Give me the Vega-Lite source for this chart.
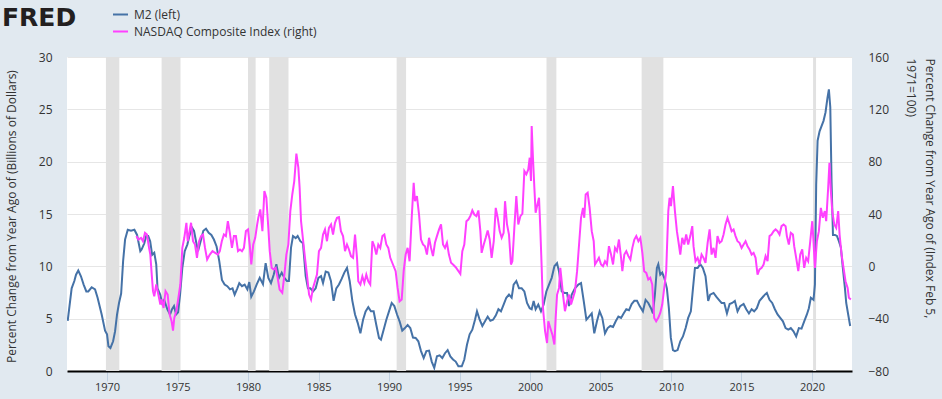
{
  "$schema": "https://vega.github.io/schema/vega-lite/v6.json",
  "width": 785,
  "height": 314,
  "autosize": {"type": "none"},
  "padding": {"left": 67, "top": 57, "right": 90, "bottom": 28},
  "background": "#e1e9f0",
  "config": {
    "view": {"stroke": null, "fill": "#ffffff"},
    "font": "Open Sans"
  },
  "datasets": {
    "rec": [
      {"s": 1969.92, "e": 1970.87}, {"s": 1973.87, "e": 1975.21}, {"s": 1980.0, "e": 1980.54},
      {"s": 1981.5, "e": 1982.87}, {"s": 1990.54, "e": 1991.21}, {"s": 2001.17, "e": 2001.87},
      {"s": 2007.92, "e": 2009.46}, {"s": 2020.08, "e": 2020.29}
    ],
    "m2": [
      {"t":1967.21,"v":4.8},{"t":1967.49,"v":7.9},{"t":1967.68,"v":8.6},{"t":1967.8,"v":9.2},{"t":1967.96,"v":9.6},
      {"t":1968.15,"v":9.05},{"t":1968.34,"v":8.26},{"t":1968.53,"v":7.6},{"t":1968.67,"v":7.6},{"t":1968.91,"v":8.0},
      {"t":1969.15,"v":7.8},{"t":1969.33,"v":7.0},{"t":1969.62,"v":5.4},{"t":1969.86,"v":3.86},{"t":1970.0,"v":3.5},
      {"t":1970.1,"v":2.36},{"t":1970.24,"v":2.2},{"t":1970.43,"v":2.84},{"t":1970.57,"v":3.8},{"t":1970.71,"v":5.4},
      {"t":1970.85,"v":6.5},{"t":1971.0,"v":7.4},{"t":1971.14,"v":10.5},{"t":1971.28,"v":12.56},{"t":1971.47,"v":13.5},
      {"t":1971.7,"v":13.4},{"t":1971.94,"v":13.5},{"t":1972.13,"v":13.0},{"t":1972.36,"v":11.45},{"t":1972.45,"v":11.6},
      {"t":1972.64,"v":12.2},{"t":1972.78,"v":12.9},{"t":1972.92,"v":12.9},{"t":1973.06,"v":12.4},{"t":1973.2,"v":11.1},
      {"t":1973.35,"v":11.3},{"t":1973.49,"v":10.2},{"t":1973.58,"v":7.9},{"t":1973.77,"v":7.3},{"t":1973.91,"v":6.5},
      {"t":1974.05,"v":6.8},{"t":1974.28,"v":5.9},{"t":1974.47,"v":5.4},{"t":1974.61,"v":5.9},{"t":1974.75,"v":6.2},
      {"t":1974.9,"v":5.4},{"t":1975.04,"v":5.6},{"t":1975.18,"v":7.3},{"t":1975.34,"v":9.85},{"t":1975.51,"v":11.45},
      {"t":1975.7,"v":12.1},{"t":1975.84,"v":12.9},{"t":1976.03,"v":13.7},{"t":1976.17,"v":13.4},{"t":1976.31,"v":12.4},
      {"t":1976.45,"v":11.45},{"t":1976.64,"v":12.4},{"t":1976.83,"v":13.4},{"t":1977.02,"v":13.6},{"t":1977.21,"v":13.2},
      {"t":1977.4,"v":13.0},{"t":1977.58,"v":12.56},{"t":1977.77,"v":11.9},{"t":1977.96,"v":10.5},{"t":1978.15,"v":8.7},
      {"t":1978.34,"v":8.26},{"t":1978.53,"v":8.1},{"t":1978.72,"v":7.8},{"t":1978.9,"v":7.9},{"t":1979.05,"v":7.3},
      {"t":1979.24,"v":7.9},{"t":1979.38,"v":8.4},{"t":1979.57,"v":8.1},{"t":1979.76,"v":8.26},{"t":1979.95,"v":7.8},
      {"t":1980.09,"v":8.5},{"t":1980.23,"v":7.1},{"t":1980.42,"v":7.6},{"t":1980.61,"v":8.26},{"t":1980.83,"v":8.9},
      {"t":1981.06,"v":8.3},{"t":1981.25,"v":10.3},{"t":1981.44,"v":8.9},{"t":1981.63,"v":8.4},{"t":1981.82,"v":9.2},
      {"t":1982.01,"v":10.2},{"t":1982.2,"v":8.9},{"t":1982.39,"v":9.4},{"t":1982.58,"v":8.9},{"t":1982.76,"v":8.6},
      {"t":1982.9,"v":8.6},{"t":1983.05,"v":11.8},{"t":1983.19,"v":12.9},{"t":1983.38,"v":12.7},{"t":1983.52,"v":12.9},
      {"t":1983.71,"v":12.4},{"t":1983.9,"v":12.2},{"t":1984.09,"v":9.06},{"t":1984.25,"v":7.9},{"t":1984.42,"v":7.9},
      {"t":1984.61,"v":7.6},{"t":1984.8,"v":7.9},{"t":1984.99,"v":8.9},{"t":1985.18,"v":9.06},{"t":1985.32,"v":8.4},
      {"t":1985.51,"v":9.5},{"t":1985.7,"v":9.4},{"t":1985.88,"v":8.6},{"t":1986.07,"v":6.7},{"t":1986.26,"v":7.9},
      {"t":1986.45,"v":8.26},{"t":1986.64,"v":8.8},{"t":1986.83,"v":9.4},{"t":1987.02,"v":9.85},{"t":1987.21,"v":8.6},
      {"t":1987.4,"v":6.7},{"t":1987.59,"v":5.4},{"t":1987.78,"v":4.6},{"t":1987.97,"v":3.6},{"t":1988.16,"v":4.9},
      {"t":1988.34,"v":5.7},{"t":1988.53,"v":6.1},{"t":1988.72,"v":5.7},{"t":1988.91,"v":5.7},{"t":1989.1,"v":4.4},
      {"t":1989.29,"v":3.16},{"t":1989.43,"v":3.0},{"t":1989.62,"v":3.95},{"t":1989.81,"v":4.9},{"t":1990.0,"v":5.7},
      {"t":1990.19,"v":6.5},{"t":1990.38,"v":6.2},{"t":1990.57,"v":5.4},{"t":1990.75,"v":4.75},{"t":1990.94,"v":3.86},
      {"t":1991.13,"v":4.1},{"t":1991.32,"v":4.4},{"t":1991.51,"v":4.1},{"t":1991.7,"v":3.2},{"t":1991.89,"v":3.16},
      {"t":1992.08,"v":2.84},{"t":1992.27,"v":1.9},{"t":1992.46,"v":1.24},{"t":1992.65,"v":1.9},{"t":1992.84,"v":1.95},
      {"t":1993.03,"v":0.9},{"t":1993.21,"v":0.3},{"t":1993.4,"v":1.4},{"t":1993.59,"v":1.5},{"t":1993.78,"v":1.24},
      {"t":1993.97,"v":1.7},{"t":1994.16,"v":2.0},{"t":1994.35,"v":1.4},{"t":1994.54,"v":1.1},{"t":1994.73,"v":0.9},
      {"t":1994.92,"v":0.45},{"t":1995.16,"v":0.45},{"t":1995.34,"v":1.1},{"t":1995.53,"v":2.5},{"t":1995.72,"v":3.5},
      {"t":1995.91,"v":3.95},{"t":1996.1,"v":4.9},{"t":1996.24,"v":5.7},{"t":1996.43,"v":4.9},{"t":1996.62,"v":4.3},
      {"t":1996.81,"v":4.75},{"t":1997.0,"v":5.2},{"t":1997.19,"v":4.8},{"t":1997.38,"v":4.9},{"t":1997.57,"v":5.3},
      {"t":1997.76,"v":5.9},{"t":1997.94,"v":5.7},{"t":1998.13,"v":6.35},{"t":1998.32,"v":7.0},{"t":1998.51,"v":7.3},
      {"t":1998.7,"v":7.0},{"t":1998.84,"v":8.26},{"t":1999.03,"v":8.6},{"t":1999.22,"v":7.9},{"t":1999.41,"v":7.9},
      {"t":1999.6,"v":7.6},{"t":1999.79,"v":6.5},{"t":1999.98,"v":6.0},{"t":2000.12,"v":5.9},{"t":2000.26,"v":6.7},
      {"t":2000.4,"v":5.9},{"t":2000.59,"v":6.35},{"t":2000.78,"v":5.7},{"t":2000.97,"v":6.35},{"t":2001.16,"v":7.6},
      {"t":2001.35,"v":8.26},{"t":2001.54,"v":8.9},{"t":2001.73,"v":10.0},{"t":2001.92,"v":10.3},{"t":2002.06,"v":9.5},
      {"t":2002.25,"v":7.6},{"t":2002.44,"v":7.46},{"t":2002.63,"v":7.46},{"t":2002.77,"v":6.2},{"t":2002.96,"v":7.3},
      {"t":2003.19,"v":7.9},{"t":2003.43,"v":8.26},{"t":2003.62,"v":8.4},{"t":2003.81,"v":6.7},{"t":2004.0,"v":4.9},
      {"t":2004.19,"v":5.2},{"t":2004.38,"v":5.5},{"t":2004.56,"v":3.6},{"t":2004.75,"v":4.75},{"t":2004.94,"v":5.7},
      {"t":2005.13,"v":5.07},{"t":2005.32,"v":3.6},{"t":2005.51,"v":4.1},{"t":2005.7,"v":4.3},{"t":2005.89,"v":4.2},
      {"t":2006.08,"v":4.75},{"t":2006.27,"v":5.2},{"t":2006.46,"v":5.07},{"t":2006.64,"v":5.5},{"t":2006.83,"v":5.9},
      {"t":2007.02,"v":5.8},{"t":2007.21,"v":6.4},{"t":2007.4,"v":6.7},{"t":2007.59,"v":6.7},{"t":2007.78,"v":6.2},
      {"t":2008.01,"v":5.7},{"t":2008.2,"v":6.8},{"t":2008.39,"v":6.5},{"t":2008.58,"v":6.0},{"t":2008.72,"v":5.5},
      {"t":2008.86,"v":7.3},{"t":2009.0,"v":9.85},{"t":2009.1,"v":10.2},{"t":2009.24,"v":9.2},{"t":2009.38,"v":9.4},
      {"t":2009.52,"v":8.9},{"t":2009.71,"v":7.9},{"t":2009.85,"v":6.0},{"t":2009.99,"v":3.16},{"t":2010.14,"v":2.0},
      {"t":2010.28,"v":1.9},{"t":2010.47,"v":2.0},{"t":2010.66,"v":2.84},{"t":2010.85,"v":3.3},{"t":2011.04,"v":4.1},
      {"t":2011.22,"v":5.07},{"t":2011.41,"v":5.7},{"t":2011.56,"v":7.9},{"t":2011.7,"v":9.85},{"t":2011.89,"v":9.85},
      {"t":2012.08,"v":10.2},{"t":2012.26,"v":9.85},{"t":2012.45,"v":9.06},{"t":2012.64,"v":6.7},{"t":2012.78,"v":7.3},
      {"t":2013.02,"v":7.46},{"t":2013.21,"v":7.1},{"t":2013.4,"v":6.8},{"t":2013.59,"v":6.5},{"t":2013.78,"v":6.5},
      {"t":2013.97,"v":5.5},{"t":2014.16,"v":6.4},{"t":2014.34,"v":6.5},{"t":2014.53,"v":6.7},{"t":2014.72,"v":5.7},
      {"t":2014.91,"v":6.2},{"t":2015.15,"v":6.4},{"t":2015.34,"v":5.9},{"t":2015.53,"v":5.5},{"t":2015.72,"v":5.9},
      {"t":2015.9,"v":5.7},{"t":2016.09,"v":6.0},{"t":2016.28,"v":6.7},{"t":2016.47,"v":7.0},{"t":2016.66,"v":7.3},
      {"t":2016.8,"v":7.46},{"t":2016.99,"v":6.8},{"t":2017.18,"v":6.5},{"t":2017.37,"v":5.9},{"t":2017.56,"v":5.4},
      {"t":2017.75,"v":5.07},{"t":2017.94,"v":4.75},{"t":2018.13,"v":4.1},{"t":2018.32,"v":3.95},{"t":2018.5,"v":4.1},
      {"t":2018.69,"v":3.8},{"t":2018.88,"v":3.3},{"t":2019.07,"v":4.1},{"t":2019.26,"v":4.05},{"t":2019.45,"v":4.75},
      {"t":2019.64,"v":5.4},{"t":2019.78,"v":6.0},{"t":2019.92,"v":7.0},{"t":2020.11,"v":6.8},{"t":2020.21,"v":8.26},
      {"t":2020.3,"v":17.8},{"t":2020.4,"v":22.0},{"t":2020.54,"v":22.9},{"t":2020.68,"v":23.4},{"t":2020.82,"v":23.9},
      {"t":2020.96,"v":24.7},{"t":2021.1,"v":26.1},{"t":2021.2,"v":26.9},{"t":2021.3,"v":25.2},{"t":2021.39,"v":18.1},
      {"t":2021.49,"v":13.0},{"t":2021.63,"v":13.0},{"t":2021.77,"v":12.9},{"t":2021.91,"v":12.4},{"t":2022.05,"v":11.8},
      {"t":2022.19,"v":9.85},{"t":2022.34,"v":7.9},{"t":2022.43,"v":6.5},{"t":2022.57,"v":5.4},{"t":2022.71,"v":4.3}
    ],
    "nq": [
      {"t":1972.08,"r":23.1},{"t":1972.22,"r":20.5},{"t":1972.41,"r":21.8},{"t":1972.55,"r":19.2},{"t":1972.69,"r":25.6},
      {"t":1972.83,"r":24.3},{"t":1972.98,"r":14.1},{"t":1973.07,"r":9.0},{"t":1973.17,"r":-6.3},{"t":1973.26,"r":-19.0},
      {"t":1973.35,"r":-22.9},{"t":1973.49,"r":-13.9},{"t":1973.64,"r":-21.6},{"t":1973.78,"r":-29.2},{"t":1973.87,"r":-25.4},
      {"t":1974.01,"r":-31.8},{"t":1974.15,"r":-19.0},{"t":1974.3,"r":-21.6},{"t":1974.44,"r":-36.9},{"t":1974.58,"r":-42.0},
      {"t":1974.68,"r":-49.1},{"t":1974.77,"r":-39.4},{"t":1974.91,"r":-34.3},{"t":1975.06,"r":-24.1},{"t":1975.2,"r":-13.9},
      {"t":1975.34,"r":14.1},{"t":1975.48,"r":21.8},{"t":1975.63,"r":33.3},{"t":1975.72,"r":19.2},{"t":1975.81,"r":24.3},
      {"t":1975.96,"r":33.3},{"t":1976.1,"r":19.2},{"t":1976.24,"r":16.7},{"t":1976.38,"r":6.5},{"t":1976.53,"r":19.2},
      {"t":1976.67,"r":23.1},{"t":1976.81,"r":24.3},{"t":1976.95,"r":14.1},{"t":1977.1,"r":5.2},{"t":1977.29,"r":9.0},
      {"t":1977.48,"r":11.6},{"t":1977.67,"r":10.3},{"t":1977.86,"r":9.0},{"t":1978.0,"r":11.6},{"t":1978.14,"r":19.2},
      {"t":1978.29,"r":24.3},{"t":1978.43,"r":23.1},{"t":1978.57,"r":34.5},{"t":1978.71,"r":25.6},{"t":1978.86,"r":14.1},
      {"t":1979.0,"r":23.1},{"t":1979.14,"r":23.1},{"t":1979.29,"r":11.6},{"t":1979.43,"r":12.9},{"t":1979.57,"r":11.6},
      {"t":1979.71,"r":14.1},{"t":1979.85,"r":26.9},{"t":1980.0,"r":28.2},{"t":1980.13,"r":15.4},{"t":1980.23,"r":1.4},
      {"t":1980.37,"r":16.7},{"t":1980.51,"r":21.8},{"t":1980.65,"r":32.0},{"t":1980.73,"r":37.1},{"t":1980.87,"r":43.5},
      {"t":1981.02,"r":26.9},{"t":1981.16,"r":57.5},{"t":1981.3,"r":52.4},{"t":1981.44,"r":29.4},{"t":1981.54,"r":11.6},
      {"t":1981.68,"r":-1.2},{"t":1981.82,"r":-2.4},{"t":1981.96,"r":-1.2},{"t":1982.1,"r":-8.8},{"t":1982.24,"r":-17.8},
      {"t":1982.43,"r":-20.3},{"t":1982.58,"r":-6.3},{"t":1982.72,"r":9.0},{"t":1982.86,"r":16.7},{"t":1983.0,"r":42.2},
      {"t":1983.14,"r":54.9},{"t":1983.28,"r":65.2},{"t":1983.43,"r":86.1},{"t":1983.57,"r":75.4},{"t":1983.66,"r":60.1},
      {"t":1983.76,"r":34.5},{"t":1983.9,"r":20.5},{"t":1984.04,"r":6.5},{"t":1984.18,"r":-6.3},{"t":1984.33,"r":-21.6},
      {"t":1984.47,"r":-25.4},{"t":1984.61,"r":-16.5},{"t":1984.75,"r":-11.4},{"t":1984.89,"r":-6.3},{"t":1985.03,"r":11.6},
      {"t":1985.18,"r":14.1},{"t":1985.32,"r":24.3},{"t":1985.46,"r":28.2},{"t":1985.6,"r":19.2},{"t":1985.74,"r":29.4},
      {"t":1985.89,"r":32.0},{"t":1986.03,"r":24.3},{"t":1986.17,"r":33.3},{"t":1986.31,"r":37.1},{"t":1986.45,"r":37.6},
      {"t":1986.59,"r":26.9},{"t":1986.74,"r":23.1},{"t":1986.88,"r":11.6},{"t":1987.02,"r":16.7},{"t":1987.16,"r":12.9},
      {"t":1987.3,"r":7.8},{"t":1987.45,"r":6.5},{"t":1987.59,"r":24.3},{"t":1987.73,"r":6.5},{"t":1987.82,"r":-11.4},
      {"t":1987.97,"r":-13.9},{"t":1988.11,"r":-7.6},{"t":1988.25,"r":-12.7},{"t":1988.39,"r":-6.3},{"t":1988.53,"r":-11.4},
      {"t":1988.67,"r":-13.9},{"t":1988.82,"r":19.2},{"t":1988.96,"r":15.4},{"t":1989.1,"r":9.0},{"t":1989.24,"r":16.7},
      {"t":1989.38,"r":14.1},{"t":1989.53,"r":23.1},{"t":1989.67,"r":24.3},{"t":1989.81,"r":16.7},{"t":1989.95,"r":14.1},
      {"t":1990.09,"r":6.5},{"t":1990.28,"r":1.4},{"t":1990.47,"r":-3.7},{"t":1990.61,"r":-16.5},{"t":1990.75,"r":-26.7},
      {"t":1990.9,"r":-25.4},{"t":1991.04,"r":-3.7},{"t":1991.18,"r":9.0},{"t":1991.32,"r":14.1},{"t":1991.46,"r":3.9},
      {"t":1991.61,"r":37.1},{"t":1991.75,"r":63.9},{"t":1991.84,"r":49.8},{"t":1991.98,"r":53.7},{"t":1992.13,"r":39.6},
      {"t":1992.27,"r":20.5},{"t":1992.41,"r":16.7},{"t":1992.55,"r":15.4},{"t":1992.69,"r":9.0},{"t":1992.84,"r":21.8},
      {"t":1992.98,"r":14.1},{"t":1993.12,"r":7.8},{"t":1993.26,"r":18.0},{"t":1993.4,"r":23.1},{"t":1993.55,"r":28.2},
      {"t":1993.69,"r":32.0},{"t":1993.83,"r":16.7},{"t":1993.97,"r":14.1},{"t":1994.11,"r":18.0},{"t":1994.25,"r":9.0},
      {"t":1994.4,"r":2.7},{"t":1994.54,"r":1.4},{"t":1994.73,"r":-0.7},{"t":1995.06,"r":-5.8},{"t":1995.2,"r":11.6},
      {"t":1995.34,"r":16.7},{"t":1995.49,"r":34.5},{"t":1995.63,"r":35.8},{"t":1995.77,"r":38.4},{"t":1995.91,"r":42.7},
      {"t":1996.05,"r":39.6},{"t":1996.2,"r":38.4},{"t":1996.34,"r":42.7},{"t":1996.48,"r":26.9},{"t":1996.57,"r":10.3},
      {"t":1996.72,"r":16.7},{"t":1996.86,"r":21.8},{"t":1997.0,"r":27.4},{"t":1997.14,"r":20.5},{"t":1997.28,"r":6.5},
      {"t":1997.43,"r":19.2},{"t":1997.57,"r":44.7},{"t":1997.71,"r":37.1},{"t":1997.85,"r":26.9},{"t":1997.99,"r":21.8},
      {"t":1998.13,"r":25.6},{"t":1998.23,"r":49.8},{"t":1998.37,"r":32.0},{"t":1998.51,"r":24.3},{"t":1998.65,"r":1.4},
      {"t":1998.75,"r":3.9},{"t":1998.89,"r":29.4},{"t":1999.03,"r":53.7},{"t":1999.17,"r":32.0},{"t":1999.32,"r":38.4},
      {"t":1999.46,"r":40.2},{"t":1999.6,"r":72.8},{"t":1999.74,"r":70.3},{"t":1999.88,"r":74.1},{"t":1999.98,"r":83.0},
      {"t":2000.07,"r":65.2},{"t":2000.12,"r":107.2},{"t":2000.21,"r":83.0},{"t":2000.31,"r":60.1},{"t":2000.4,"r":40.9},
      {"t":2000.5,"r":46.0},{"t":2000.64,"r":52.4},{"t":2000.73,"r":29.4},{"t":2000.83,"r":-1.2},{"t":2000.92,"r":-31.8},
      {"t":2001.07,"r":-49.6},{"t":2001.21,"r":-58.6},{"t":2001.3,"r":-42.0},{"t":2001.44,"r":-47.1},{"t":2001.59,"r":-52.2},
      {"t":2001.73,"r":-59.8},{"t":2001.82,"r":-39.4},{"t":2001.92,"r":-21.6},{"t":2002.06,"r":-16.5},{"t":2002.15,"r":-1.2},
      {"t":2002.25,"r":-11.4},{"t":2002.34,"r":-21.6},{"t":2002.48,"r":-34.3},{"t":2002.63,"r":-26.7},{"t":2002.77,"r":-21.6},
      {"t":2002.91,"r":-29.2},{"t":2003.05,"r":-24.1},{"t":2003.19,"r":-19.0},{"t":2003.34,"r":-3.7},{"t":2003.48,"r":16.7},
      {"t":2003.62,"r":37.1},{"t":2003.76,"r":44.7},{"t":2003.85,"r":37.1},{"t":2003.95,"r":54.9},{"t":2004.09,"r":56.2},
      {"t":2004.23,"r":44.7},{"t":2004.38,"r":26.9},{"t":2004.52,"r":19.2},{"t":2004.61,"r":1.4},{"t":2004.75,"r":3.9},
      {"t":2004.89,"r":6.5},{"t":2005.04,"r":1.4},{"t":2005.18,"r":0.1},{"t":2005.32,"r":3.9},{"t":2005.46,"r":1.4},
      {"t":2005.6,"r":15.4},{"t":2005.75,"r":9.0},{"t":2005.89,"r":1.4},{"t":2006.03,"r":14.1},{"t":2006.17,"r":11.6},
      {"t":2006.31,"r":20.5},{"t":2006.46,"r":6.5},{"t":2006.55,"r":-3.7},{"t":2006.69,"r":9.0},{"t":2006.83,"r":11.6},
      {"t":2006.98,"r":7.8},{"t":2007.12,"r":5.2},{"t":2007.26,"r":14.1},{"t":2007.4,"r":20.5},{"t":2007.54,"r":23.1},
      {"t":2007.69,"r":19.2},{"t":2007.83,"r":21.8},{"t":2007.97,"r":10.3},{"t":2008.1,"r":-3.7},{"t":2008.25,"r":-5.0},
      {"t":2008.39,"r":-10.1},{"t":2008.53,"r":-8.8},{"t":2008.67,"r":-13.9},{"t":2008.81,"r":-39.4},{"t":2008.95,"r":-42.0},
      {"t":2009.1,"r":-39.4},{"t":2009.24,"r":-35.6},{"t":2009.38,"r":-29.2},{"t":2009.52,"r":-16.5},{"t":2009.66,"r":-3.7},
      {"t":2009.81,"r":42.2},{"t":2009.9,"r":52.4},{"t":2010.0,"r":46.0},{"t":2010.14,"r":61.3},{"t":2010.28,"r":42.2},
      {"t":2010.42,"r":26.9},{"t":2010.56,"r":16.7},{"t":2010.66,"r":9.0},{"t":2010.8,"r":21.8},{"t":2010.94,"r":16.7},
      {"t":2011.08,"r":24.3},{"t":2011.22,"r":16.7},{"t":2011.37,"r":23.1},{"t":2011.51,"r":30.7},{"t":2011.6,"r":15.4},
      {"t":2011.74,"r":3.9},{"t":2011.89,"r":6.5},{"t":2012.03,"r":1.4},{"t":2012.17,"r":9.0},{"t":2012.31,"r":6.5},
      {"t":2012.45,"r":2.7},{"t":2012.6,"r":18.0},{"t":2012.74,"r":28.2},{"t":2012.88,"r":9.0},{"t":2013.02,"r":14.1},
      {"t":2013.16,"r":6.5},{"t":2013.3,"r":23.1},{"t":2013.45,"r":18.0},{"t":2013.59,"r":19.2},{"t":2013.73,"r":24.3},
      {"t":2013.87,"r":32.0},{"t":2014.01,"r":37.1},{"t":2014.16,"r":32.0},{"t":2014.3,"r":26.9},{"t":2014.44,"r":28.2},
      {"t":2014.58,"r":23.1},{"t":2014.72,"r":19.2},{"t":2014.86,"r":18.0},{"t":2015.01,"r":14.1},{"t":2015.15,"r":16.7},
      {"t":2015.29,"r":19.2},{"t":2015.43,"r":15.4},{"t":2015.57,"r":12.9},{"t":2015.72,"r":9.0},{"t":2015.86,"r":10.3},
      {"t":2016.0,"r":6.5},{"t":2016.14,"r":-6.3},{"t":2016.28,"r":-2.4},{"t":2016.43,"r":-1.2},{"t":2016.57,"r":1.4},
      {"t":2016.71,"r":7.8},{"t":2016.85,"r":3.9},{"t":2016.99,"r":23.1},{"t":2017.13,"r":24.3},{"t":2017.28,"r":26.9},
      {"t":2017.42,"r":28.2},{"t":2017.56,"r":26.9},{"t":2017.7,"r":24.3},{"t":2017.84,"r":30.7},{"t":2017.99,"r":32.0},
      {"t":2018.13,"r":30.7},{"t":2018.22,"r":23.1},{"t":2018.36,"r":16.7},{"t":2018.5,"r":25.6},{"t":2018.65,"r":24.3},
      {"t":2018.74,"r":15.4},{"t":2018.88,"r":6.5},{"t":2019.03,"r":-3.7},{"t":2019.17,"r":9.0},{"t":2019.31,"r":12.9},
      {"t":2019.45,"r":-1.2},{"t":2019.59,"r":6.5},{"t":2019.73,"r":3.9},{"t":2019.88,"r":19.2},{"t":2020.02,"r":34.5},
      {"t":2020.11,"r":19.2},{"t":2020.21,"r":-1.2},{"t":2020.35,"r":19.2},{"t":2020.49,"r":26.9},{"t":2020.63,"r":44.7},
      {"t":2020.77,"r":37.1},{"t":2020.91,"r":42.2},{"t":2021.01,"r":34.5},{"t":2021.15,"r":60.1},{"t":2021.24,"r":79.2},
      {"t":2021.34,"r":57.5},{"t":2021.44,"r":42.2},{"t":2021.58,"r":32.0},{"t":2021.72,"r":29.4},{"t":2021.86,"r":42.2},
      {"t":2021.96,"r":24.3},{"t":2022.1,"r":9.0},{"t":2022.24,"r":-1.2},{"t":2022.38,"r":-11.4},{"t":2022.53,"r":-16.5},
      {"t":2022.62,"r":-24.1},{"t":2022.76,"r":-25.4}
    ]
  },
  "layer": [
    {
      "data": {"name": "rec"},
      "mark": {"type": "rect", "color": "#e1e1e1"},
      "encoding": {
        "x": {"field": "s", "type": "quantitative", "scale": {"domain": [1967.16, 2022.84], "nice": false, "zero": false},
          "axis": {"values": [1970,1975,1980,1985,1990,1995,2000,2005,2010,2015,2020], "format": "d", "title": null,
            "grid": false, "domainColor": "#000000", "domainWidth": 2, "tickColor": "#c0d0e0", "tickSize": 10,
            "labelPadding": 0, "labelFontSize": 11, "labelColor": "#333333", "labelFont": "Open Sans"}},
        "x2": {"field": "e"}
      }
    },
    {
      "data": {"name": "m2"},
      "mark": {"type": "line", "strokeWidth": 2, "clip": true},
      "encoding": {
        "x": {"field": "t", "type": "quantitative", "scale": {"domain": [1967.16, 2022.84], "nice": false, "zero": false}},
        "y": {"field": "v", "type": "quantitative", "scale": {"domain": [0, 30], "nice": false},
          "axis": {"orient": "left", "values": [0,5,10,15,20,25,30], "grid": true, "gridColor": "#e6e6e6", "domain": false,
            "ticks": false, "labelPadding": 15, "labelFontSize": 12, "labelColor": "#333333", "labelFont": "Open Sans",
            "title": "Percent Change from Year Ago of (Billions of Dollars)", "titleFont": "Open Sans", "titleFontSize": 12,
            "titleFontWeight": "normal", "titleColor": "#333333", "titleAngle": -90, "titleAlign": "center",
            "titleBaseline": "top", "titleX": -61, "titleY": 159}},
        "color": {"datum": "M2 (left)", "type": "nominal",
          "scale": {"domain": ["M2 (left)", "NASDAQ Composite Index (right)"], "range": ["#4572a7", "#ff40ff"]},
          "legend": {"orient": "none", "legendX": -65, "legendY": -51, "title": "FRED", "titleOrient": "left",
            "titleFont": "DejaVu Sans", "titleFontSize": 25, "titleFontWeight": "bold", "titleColor": "#231f20",
            "titleBaseline": "top", "titleAnchor": "start",
            "titlePadding": 35, "symbolType": "stroke", "symbolSize": 225, "symbolStrokeWidth": 2,
            "labelFont": "Open Sans", "labelFontSize": 12, "labelColor": "#333333", "labelOffset": 5, "labelLimit": 0,
            "rowPadding": 2, "padding": 0}}
      }
    },
    {
      "data": {"name": "nq"},
      "mark": {"type": "line", "strokeWidth": 2, "clip": true},
      "encoding": {
        "x": {"field": "t", "type": "quantitative", "scale": {"domain": [1967.16, 2022.84], "nice": false, "zero": false}},
        "y": {"field": "r", "type": "quantitative", "scale": {"domain": [-80, 160], "nice": false, "zero": false},
          "axis": {"orient": "right", "values": [-80,-40,0,40,80,120,160], "grid": false, "domain": false,
            "ticks": false, "labelPadding": 16, "labelFontSize": 12, "labelColor": "#333333", "labelFont": "Open Sans",
            "title": ["Percent Change from Year Ago of (Index Feb 5,", "1971=100)"], "titleFont": "Open Sans",
            "titleFontSize": 12, "titleFontWeight": "normal", "titleColor": "#333333", "titleAngle": 90,
            "titleAlign": "left", "titleBaseline": "top", "titleX": 82, "titleY": 1, "titleLineHeight": 19}},
        "color": {"datum": "NASDAQ Composite Index (right)", "type": "nominal"}
      }
    }
  ],
  "resolve": {"scale": {"y": "independent"}}
}
